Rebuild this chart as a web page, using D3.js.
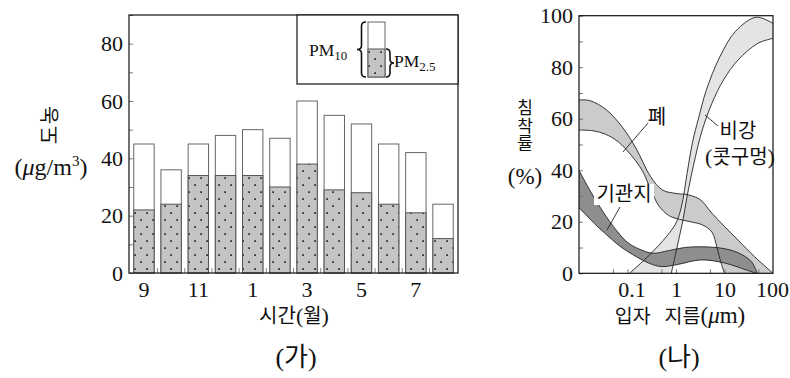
<!DOCTYPE html>
<html><head><meta charset="utf-8">
<script src="https://cdn.jsdelivr.net/npm/d3@7"></script>
<style>
html,body{margin:0;padding:0;background:#fff;}
svg{display:block;}
text{font-family:'Liberation Serif','Noto Sans CJK KR',serif;fill:#111;}
</style></head>
<body>
<script>
// ---------- data: (가) ----------
const months = ["9","10","11","12","1","2","3","4","5","6","7","8"];
const pm10 = [45,36,45,48,50,47,60,55,52,45,42,24];
const pm25 = [22,24,34,34,34,30,38,29,28,24,21,12];
const leftYTicks = [0,20,40,60,80];
const leftXLabels = ["9","11","1","3","5","7"];

// ---------- data: (나) ----------
const lungUpper = [[0.01,67.3],[0.017,67],[0.037,63.4],[0.08,56.5],[0.15,48.5],[0.3,37.5],[0.53,32.3],[1,31],[1.84,30.4],[3.2,28.5],[5.5,23.3],[19,12.9],[42,6.4],[100,0]];
const lungLower = [[0.01,55.6],[0.02,55.3],[0.035,54],[0.06,51.5],[0.1,47.5],[0.2,40],[0.3,32.5],[0.45,26],[0.7,22.5],[1,21.3],[2,20],[3.5,18.8],[5.5,16],[7,10],[8.5,4],[10,0]];
const nasalUpper = [[0.11,0],[0.28,7],[0.65,14.5],[1,19.5],[1.3,26],[1.7,39],[2.2,51],[2.9,60],[4.2,71],[8,84],[17,94],[45,99.4],[100,97]];
const nasalLower = [[0.8,0],[1.2,15],[1.4,21],[1.7,30],[2.3,42],[3.4,55],[5.5,66],[9.5,75],[19,82.8],[49,89.3],[100,91.2]];
const bronchiUpper = [[0.01,40],[0.017,32],[0.031,24],[0.06,16.5],[0.1,12],[0.17,9.5],[0.33,7.8],[0.7,8.8],[1.5,10],[3.3,10.3],[9,9.7],[19,8],[36,4.5],[47,0]];
const bronchiLower = [[0.01,25.5],[0.023,18.5],[0.037,15],[0.06,11.5],[0.1,8.5],[0.28,3.9],[0.5,2.6],[1,3.3],[3.3,5.2],[10,4],[28,1.3],[45,0]];
const rightYTicks = [0,20,40,60,80,100];
const rightXTicks = [0.1,1,10,100];
const rightXMinor = [0.05,0.1,0.5,1,5,10,50];

const svg = d3.select("body").append("svg").attr("width",790).attr("height",378);
const defs = svg.append("defs");
const pat = defs.append("pattern").attr("id","dots").attr("patternUnits","userSpaceOnUse")
  .attr("width",12).attr("height",14);
pat.append("rect").attr("width",12).attr("height",14).attr("fill","#c4c4c4");
pat.append("rect").attr("x",2.3).attr("y",2.3).attr("width",1.6).attr("height",1.6).attr("fill","#111");
pat.append("rect").attr("x",8.3).attr("y",9.3).attr("width",1.6).attr("height",1.6).attr("fill","#111");

// ================= (가) =================
const xL = d3.scaleBand().domain(months).range([129,458]).paddingInner(0.25).paddingOuter(0.175);
const yL = d3.scaleLinear().domain([0,90]).range([273,15]);

const gL = svg.append("g");
months.forEach((m,i)=>{
  gL.append("rect").attr("x",xL(m)).attr("y",yL(pm10[i])).attr("width",xL.bandwidth())
    .attr("height",yL(0)-yL(pm10[i])).attr("fill","#fff").attr("stroke","#666").attr("stroke-width",1);
  gL.append("rect").attr("x",xL(m)).attr("y",yL(pm25[i])).attr("width",xL.bandwidth())
    .attr("height",yL(0)-yL(pm25[i])).attr("fill","url(#dots)").attr("stroke","#555").attr("stroke-width",1);
});
gL.append("g").attr("transform","translate(129,0)")
  .call(d3.axisRight(yL).tickValues(d3.range(0,91,10)).tickSize(4).tickFormat(""))
  .call(g=>{g.select(".domain").remove(); g.selectAll("line").attr("stroke","#777");});
const gaps = months.slice(1).map(m=>xL(m)-xL.step()*xL.paddingInner()/2);
gL.selectAll(".bt").data(gaps).enter().append("line")
  .attr("x1",d=>d).attr("x2",d=>d).attr("y1",273).attr("y2",268).attr("stroke","#888");
gL.append("rect").attr("x",129).attr("y",15).attr("width",329).attr("height",258)
  .attr("fill","none").attr("stroke","#111").attr("stroke-width",1.2);
gL.append("g").attr("transform","translate(129,0)")
  .call(d3.axisLeft(yL).tickValues(leftYTicks).tickSize(0).tickPadding(6))
  .call(g=>{g.select(".domain").remove(); g.selectAll("text").attr("font-size",22)
    .attr("font-family","'Liberation Serif',serif").attr("fill","#111");});
const xLabIdx = [0,2,4,6,8,10];
xLabIdx.forEach((idx,k)=>{
  gL.append("text").attr("x",xL(months[idx])+xL.bandwidth()/2).attr("y",297)
    .attr("text-anchor","middle").attr("font-size",22).text(leftXLabels[k]);
});
const xtl = gL.append("text").attr("x",294).attr("y",323).attr("text-anchor","middle").attr("font-size",20);
xtl.append("tspan").text("시간");
xtl.append("tspan").attr("font-size",22).text("(");
xtl.append("tspan").text("월");
xtl.append("tspan").attr("font-size",22).text(")");
// y title
gL.append("text").attr("transform","translate(50,115) rotate(-90)").attr("text-anchor","middle")
  .attr("dominant-baseline","central").attr("font-size",20).text("농");
gL.append("text").attr("transform","translate(50,135) rotate(-90)").attr("text-anchor","middle")
  .attr("dominant-baseline","central").attr("font-size",20).text("도");
const yt = gL.append("text").attr("x",51).attr("y",175).attr("text-anchor","middle").attr("font-size",24);
yt.append("tspan").text("(");
yt.append("tspan").attr("font-style","italic").text("μ");
yt.append("tspan").text("g/m");
yt.append("tspan").attr("font-size",15).attr("dy",-9).text("3");
yt.append("tspan").attr("dy",9).text(")");

// legend
const lg = gL.append("g");
lg.append("rect").attr("x",297).attr("y",15).attr("width",161).attr("height",69)
  .attr("fill","#fff").attr("stroke","#111").attr("stroke-width",1.2);
const t1 = lg.append("text").attr("x",309).attr("y",56).attr("font-size",17.5);
t1.append("tspan").text("PM");
t1.append("tspan").attr("font-size",13).attr("dy",4).text("10");
const t2 = lg.append("text").attr("x",394).attr("y",67).attr("font-size",17.5);
t2.append("tspan").text("PM");
t2.append("tspan").attr("font-size",13).attr("dy",4).text("2.5");
lg.append("rect").attr("x",368).attr("y",22).attr("width",17).attr("height",55)
  .attr("fill","#fff").attr("stroke","#666");
lg.append("rect").attr("x",368).attr("y",49).attr("width",17).attr("height",28)
  .attr("fill","url(#dots)").attr("stroke","#555");
function braceL(xr,xl,y0,y1){const xm=(xr+xl)/2,ym=(y0+y1)/2,k=4;
  return `M${xr},${y0}Q${xm},${y0} ${xm},${y0+k}L${xm},${ym-k}Q${xm},${ym} ${xl},${ym}Q${xm},${ym} ${xm},${ym+k}L${xm},${y1-k}Q${xm},${y1} ${xr},${y1}`;}
lg.append("path").attr("d",braceL(366,357,22,77)).attr("fill","none").attr("stroke","#111").attr("stroke-width",1.6);
lg.append("path").attr("d",braceL(386,394,49,77)).attr("fill","none").attr("stroke","#111").attr("stroke-width",1.6);

gL.append("text").attr("x",296).attr("y",366).attr("text-anchor","middle").attr("font-size",26).text("(가)");

// ================= (나) =================
const xR = d3.scaleLog().domain([0.01,100]).range([579,773]);
const yR = d3.scaleLinear().domain([0,100]).range([273.3,15.7]);
const gR = svg.append("g");
defs.append("clipPath").attr("id","clipR").append("rect").attr("x",579).attr("y",15.7).attr("width",194).attr("height",257.6);
const line = d3.line().x(d=>xR(d[0])).y(d=>yR(d[1])).curve(d3.curveCatmullRom.alpha(0.5));
function band(u,l){return line(u)+"L"+line(l.slice().reverse()).slice(1)+"Z";}
const gc = gR.append("g").attr("clip-path","url(#clipR)");
gc.append("path").attr("d",band(lungUpper,lungLower)).attr("fill","#cbcbcb");
gc.append("path").attr("d",band(nasalUpper,nasalLower)).attr("fill","#e4e4e4");
gc.append("path").attr("d",band(bronchiUpper,bronchiLower)).attr("fill","#8e8e8e");
[lungUpper,lungLower,nasalUpper,nasalLower,bronchiUpper,bronchiLower].forEach(c=>{
  gc.append("path").attr("d",line(c)).attr("fill","none").attr("stroke","#222").attr("stroke-width",0.9);
});
gR.append("g").attr("transform","translate(579,0)")
  .call(d3.axisRight(yR).tickValues(d3.range(0,101,10)).tickSize(4).tickFormat(""))
  .call(g=>{g.select(".domain").remove(); g.selectAll("line").attr("stroke","#777");});
gR.append("g").attr("transform","translate(0,273.3)")
  .call(d3.axisTop(xR).tickValues(rightXMinor).tickSize(4).tickFormat(""))
  .call(g=>{g.select(".domain").remove(); g.selectAll("line").attr("stroke","#777");});
gR.append("rect").attr("x",579).attr("y",15.7).attr("width",194).attr("height",257.6)
  .attr("fill","none").attr("stroke","#111").attr("stroke-width",1.2);
gR.append("g").attr("transform","translate(579,0)")
  .call(d3.axisLeft(yR).tickValues(rightYTicks).tickSize(0).tickPadding(6))
  .call(g=>{g.select(".domain").remove(); g.selectAll("text").attr("font-size",22)
    .attr("font-family","'Liberation Serif',serif").attr("fill","#111");});
gR.append("g").attr("transform","translate(0,273.3)")
  .call(d3.axisBottom(xR).tickValues(rightXTicks).tickSize(0).tickPadding(8).tickFormat(d=>String(d)))
  .call(g=>{g.select(".domain").remove(); g.selectAll("text").attr("font-size",22)
    .attr("font-family","'Liberation Serif',serif").attr("fill","#111")
    .attr("dx",(d)=> d===0.1 ? 4 : (d===100 ? -1 : 0));});
const xt = gR.append("text").attr("x",680).attr("y",323).attr("text-anchor","middle").attr("font-size",19.5);
xt.append("tspan").text("입자");
xt.append("tspan").attr("dx",14).text("지름");
xt.append("tspan").attr("font-size",23).text("(");
xt.append("tspan").attr("font-size",23).attr("font-style","italic").text("μ");
xt.append("tspan").attr("font-size",23).text("m)");
["침","착","률"].forEach((c,i)=>{
  gR.append("text").attr("x",525).attr("y",114+i*17.5).attr("text-anchor","middle").attr("font-size",17).text(c);
});
gR.append("text").attr("x",525).attr("y",184).attr("text-anchor","middle").attr("font-size",23).text("(%)");
gR.append("line").attr("x1",648).attr("y1",123).attr("x2",623).attr("y2",152).attr("stroke","#222").attr("stroke-width",0.9);
gR.append("text").attr("x",657).attr("y",124).attr("text-anchor","middle").attr("font-size",20).text("폐");
gR.append("line").attr("x1",718).attr("y1",126).attr("x2",705).attr("y2",115).attr("stroke","#222").attr("stroke-width",0.9);
gR.append("text").attr("x",738).attr("y",138).attr("text-anchor","middle").attr("font-size",20).text("비강");
const kt = gR.append("text").attr("x",740).attr("y",164).attr("text-anchor","middle").attr("font-size",20);
kt.append("tspan").attr("font-size",22).text("(");
kt.append("tspan").text("콧구멍");
kt.append("tspan").attr("font-size",22).text(")");
gR.append("rect").attr("x",594).attr("y",184).attr("width",60).attr("height",21).attr("fill","#fff");
gR.append("text").attr("x",624).attr("y",201).attr("text-anchor","middle").attr("font-size",20).text("기관지");
gR.append("line").attr("x1",620).attr("y1",207).attr("x2",607).attr("y2",230).attr("stroke","#222").attr("stroke-width",0.9);

gR.append("text").attr("x",679).attr("y",366).attr("text-anchor","middle").attr("font-size",26).text("(나)");
</script>
</body></html>
